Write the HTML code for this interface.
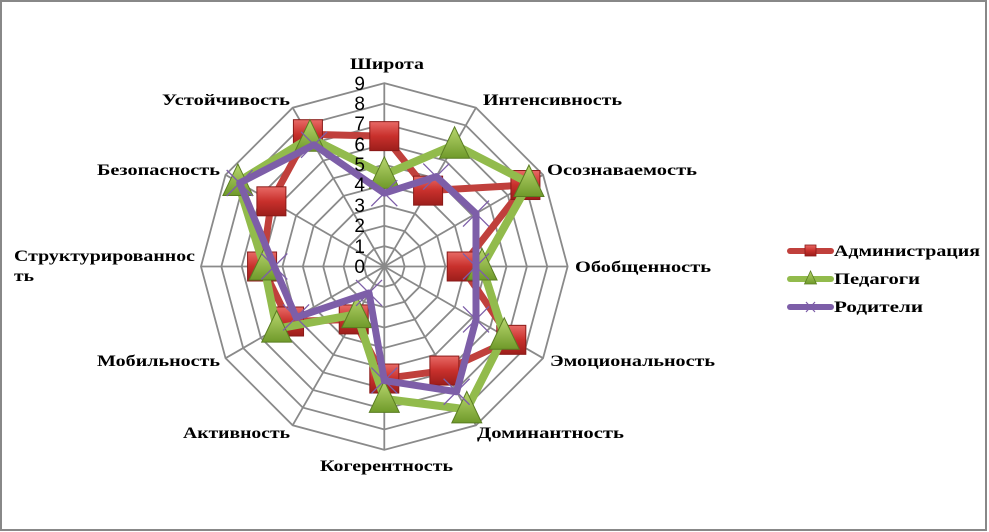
<!DOCTYPE html>
<html><head><meta charset="utf-8"><style>
html,body{margin:0;padding:0;background:#fff}
svg{display:block}
.l{font-family:"Liberation Serif","DejaVu Serif",serif;font-weight:bold;font-size:16px;fill:#000}
.n{font-family:"Liberation Sans","DejaVu Sans",sans-serif;font-size:19px;fill:#000}
</style></head><body>
<svg id="s" width="989" height="532" viewBox="0 0 989 532" xmlns="http://www.w3.org/2000/svg">
<defs>
<linearGradient id="rg" x1="0" y1="0" x2="0" y2="1"><stop offset="0" stop-color="#e86a66"/><stop offset="0.5" stop-color="#c8302c"/><stop offset="1" stop-color="#9c1e1b"/></linearGradient>
<linearGradient id="gg" x1="0" y1="0" x2="0" y2="1"><stop offset="0" stop-color="#b8d66e"/><stop offset="1" stop-color="#6f9a2a"/></linearGradient>
</defs>
<rect x="1" y="1" width="985" height="529" fill="#fff" stroke="#888" stroke-width="2"/>
<g id="grid"></g>
<g id="data"></g>
<g class="n" text-anchor="end">
<text x="365" y="273">0</text><text x="365" y="253">1</text><text x="365" y="232">2</text><text x="365" y="212">3</text><text x="365" y="191">4</text><text x="365" y="171">5</text><text x="365" y="151">6</text><text x="365" y="130">7</text><text x="365" y="110">8</text><text x="365" y="90">9</text>
</g>
<g class="l" lengthAdjust="spacingAndGlyphs">
<text x="350" y="69" textLength="74" lengthAdjust="spacingAndGlyphs">Широта</text>
<text x="483" y="105" textLength="139" lengthAdjust="spacingAndGlyphs">Интенсивность</text>
<text x="547" y="175" textLength="150" lengthAdjust="spacingAndGlyphs">Осознаваемость</text>
<text x="575" y="272" textLength="136" lengthAdjust="spacingAndGlyphs">Обобщенность</text>
<text x="550" y="366" textLength="165" lengthAdjust="spacingAndGlyphs">Эмоциональность</text>
<text x="477" y="438" textLength="147" lengthAdjust="spacingAndGlyphs">Доминантность</text>
<text x="320" y="471" textLength="133" lengthAdjust="spacingAndGlyphs">Когерентность</text>
<text x="183" y="438" textLength="107" lengthAdjust="spacingAndGlyphs">Активность</text>
<text x="97" y="366" textLength="123" lengthAdjust="spacingAndGlyphs">Мобильность</text>
<text x="14" y="261" textLength="181" lengthAdjust="spacingAndGlyphs">Структурированнос</text>
<text x="14" y="281" textLength="20" lengthAdjust="spacingAndGlyphs">ть</text>
<text x="97" y="175" textLength="123" lengthAdjust="spacingAndGlyphs">Безопасность</text>
<text x="162" y="105" textLength="128" lengthAdjust="spacingAndGlyphs">Устойчивость</text>
<text x="834" y="256" textLength="146" lengthAdjust="spacingAndGlyphs">Администрация</text>
<text x="834" y="284" textLength="86" lengthAdjust="spacingAndGlyphs">Педагоги</text>
<text x="834" y="312" textLength="89" lengthAdjust="spacingAndGlyphs">Родители</text>
</g>
<g id="leg"></g>
</svg>
<script>
var cx=384.3,cy=266.5,u=20.37,NS="http://www.w3.org/2000/svg";
function pt(i,v){var a=i*Math.PI/6;return [cx+v*u*Math.sin(a),cy-v*u*Math.cos(a)];}
function el(t,at,p){var e=document.createElementNS(NS,t);for(var k in at)e.setAttribute(k,at[k]);(p||document.getElementById('data')).appendChild(e);return e;}
var g=document.getElementById('grid');
for(var r=1;r<=9;r++){var ps=[];for(var i=0;i<12;i++)ps.push(pt(i,r).join(','));el('polygon',{points:ps.join(' '),fill:'none',stroke:'#8a8a8a','stroke-width':1.8},g);}
for(var i=0;i<12;i++){var p=pt(i,9);el('line',{x1:cx,y1:cy,x2:p[0],y2:p[1],stroke:'#8a8a8a','stroke-width':1.8},g);}
var A=[6.4,4.3,8.0,3.8,7.2,5.9,5.5,3.0,5.4,6.0,6.4,7.5];
var T=[4.5,6.9,8.2,4.8,6.8,8.1,6.5,2.7,6.1,5.9,8.3,7.3];
var P=[3.6,5.1,5.2,4.5,5.2,7.1,5.6,1.5,5.0,5.4,8.2,6.9];
function line(d,c,w){var ps=[];for(var i=0;i<12;i++)ps.push(pt(i,d[i]).join(','));el('polygon',{points:ps.join(' '),fill:'none',stroke:c,'stroke-width':w,'stroke-linejoin':'round'});}
function sq(x,y,s){el('rect',{x:x-s/2,y:y-s/2,width:s,height:s,fill:'url(#rg)',stroke:'#8a1a18','stroke-width':1});}
function tri(x,y,s){el('polygon',{points:(x)+','+(y-s*0.6)+' '+(x-s/2)+','+(y+s*0.45)+' '+(x+s/2)+','+(y+s*0.45),fill:'url(#gg)',stroke:'#5a7d22','stroke-width':1});}
function xm(x,y,s){el('path',{d:'M'+(x-s)+' '+(y-s)+'L'+(x+s)+' '+(y+s)+'M'+(x-s)+' '+(y+s)+'L'+(x+s)+' '+(y-s),stroke:'#7d5ea8','stroke-width':1.3,fill:'none'});}
line(A,'#c0403c',7);
for(var i=0;i<12;i++){var p=pt(i,A[i]);sq(p[0],p[1],29);}
line(T,'#92bb4c',8);
for(var i=0;i<12;i++){var p=pt(i,T[i]);tri(p[0],p[1],30);}
line(P,'#7d5ea8',7);
for(var i=0;i<12;i++){var p=pt(i,P[i]);xm(p[0],p[1],13);}
var L=document.getElementById('leg');
el('line',{x1:790,y1:251,x2:831,y2:251,stroke:'#c0403c','stroke-width':6,'stroke-linecap':'round'},L);
el('rect',{x:805,y:245,width:11,height:11,fill:'url(#rg)',stroke:'#8a1a18','stroke-width':0.8},L);
el('line',{x1:790,y1:279,x2:831,y2:279,stroke:'#92bb4c','stroke-width':6,'stroke-linecap':'round'},L);
el('polygon',{points:'810.5,271 804.5,284 816.5,284',fill:'url(#gg)',stroke:'#5a7d22','stroke-width':0.8},L);
el('line',{x1:790,y1:307,x2:831,y2:307,stroke:'#7d5ea8','stroke-width':6,'stroke-linecap':'round'},L);
el('path',{d:'M806 302L815 312M806 312L815 302',stroke:'#7d5ea8','stroke-width':1.2},L);
</script>
</body></html>
